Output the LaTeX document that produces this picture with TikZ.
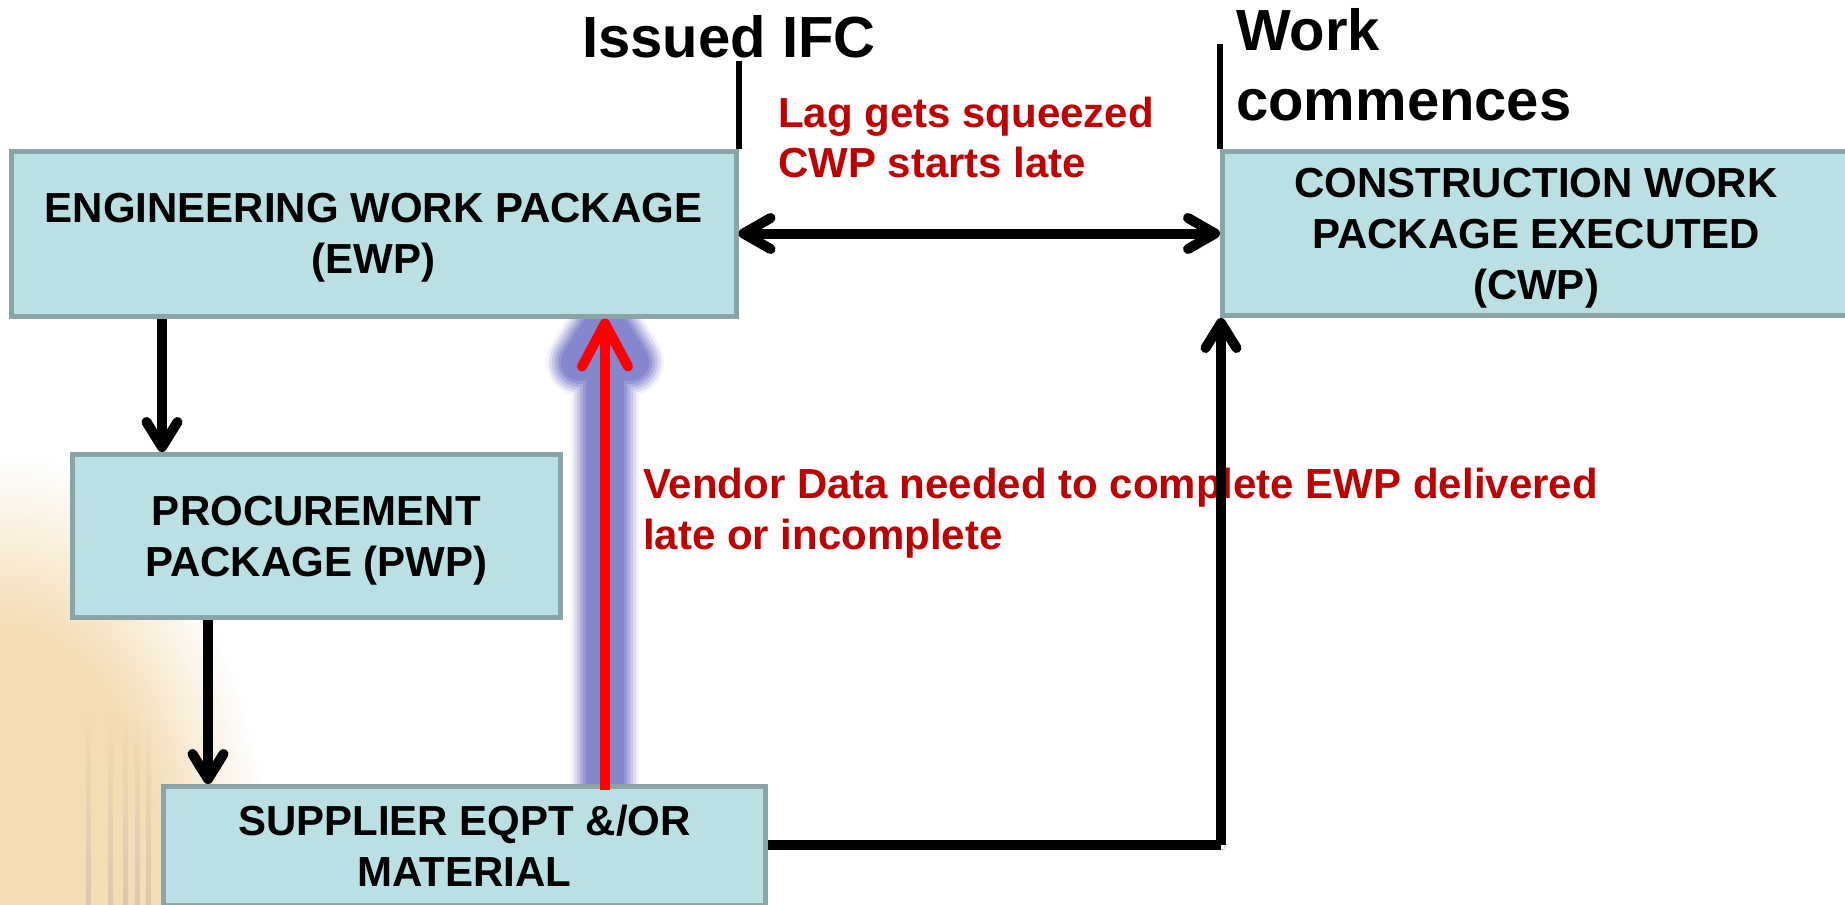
\documentclass[tikz,border=0pt]{standalone}
\usepackage{fontspec}
\setmainfont{Liberation Sans}
\usetikzlibrary{arrows.meta,fadings}
\definecolor{boxfill}{RGB}{186,224,227}
\definecolor{boxline}{RGB}{138,165,168}
\definecolor{darkred}{RGB}{192,0,0}
\definecolor{brightred}{RGB}{255,0,0}
\definecolor{glowc}{RGB}{134,134,206}
\definecolor{beige}{RGB}{243,221,181}
\definecolor{strokegray}{RGB}{170,160,165}
\pgfdeclareradialshading{beigesh}{\pgfpoint{0bp}{0bp}}{color(0bp)=(white); color(15bp)=(white); color(25bp)=(black); color(50bp)=(black)}
\pgfdeclarefading{beigefade}{\pgfuseshading{beigesh}}
\begin{document}
\begin{tikzpicture}[x=1pt,y=-1pt,
  pkg/.style={draw=boxline, fill=boxfill, line width=5pt, inner sep=0pt, align=center,
    text depth=0pt, font=\fontsize{42}{51}\selectfont\bfseries},
  shadowed/.style={preaction={draw=black!30, opacity=0.5, transform canvas={shift={(3pt,-4pt)}}}},
  conn/.style={shadowed, line width=10pt, -{Straight Barb[length=25pt,width=31pt,round]}},
  biconn/.style={shadowed, line width=10pt, {Straight Barb[length=27pt,width=31pt,round]}-{Straight Barb[length=27pt,width=31pt,round]}},
  plainline/.style={shadowed, line width=10pt, line join=round},
  tickline/.style={line width=6pt},
  title/.style={inner sep=0pt, align=left, font=\fontsize{58}{70}\selectfont\bfseries},
  note/.style={inner sep=0pt, align=left, text=darkred, font=\fontsize{42}{51}\selectfont\bfseries},
  glow/.style={line cap=round, line join=round},
  redarrow/.style={brightred, line width=10pt, -{Straight Barb[length=43pt,width=46pt,round]}}
]
\useasboundingbox (0,0) rectangle (1845,905);
\fill[white] (0,0) rectangle (1845,905);

% background decoration at the left
\fill[beige, path fading=beigefade] (0,905) ellipse [x radius=270pt, y radius=450pt];
\foreach \sx in {88,110,125,137,148}
  \draw[strokegray, opacity=0.35, line width=5pt, path fading=north] (\sx,717) -- (\sx,905);

% glow behind the red arrow
\coordinate (gtip) at (605,322);
\coordinate (gbot) at (605,790);
\coordinate (gl) at (580,362);
\coordinate (gr) at (630,362);
\foreach \w/\c in {68/10,62/28,56/48,50/68,44/86,38/100}
  \draw[glow, line width=\w pt, glowc!\c!white] (gbot) -- (gtip) (gl) -- (gtip) -- (gr);

% boxes
\node[pkg, minimum width=725pt, minimum height=165pt] (EWP) at (373.5,233.5)
  {ENGINEERING WORK PACKAGE\\(EWP)};
\node[pkg, minimum width=627pt, minimum height=164pt] (CWP) at (1536,233.5)
  {CONSTRUCTION WORK\\PACKAGE EXECUTED\\(CWP)};
\node[pkg, minimum width=488pt, minimum height=163pt] (PWP) at (316.5,536)
  {PROCUREMENT\\PACKAGE (PWP)};
\node[pkg, minimum width=602pt, minimum height=119pt] (SUP) at (464.5,846)
  {SUPPLIER EQPT \&/OR\\MATERIAL};

% titles and notes
\node[title, anchor=base west] (IFC) at (582,57) {Issued IFC};
\node[title, anchor=north west] (WRK) at (1236,8) {Work\\commences};
\node[note, anchor=north west, font=\fontsize{42}{50}\selectfont\bfseries] (LAG) at (778,96.5)
  {Lag gets squeezed\\CWP starts late};
\node[note, anchor=north west] (VEN) at (643,467.5)
  {Vendor Data needed to complete EWP delivered\\late or incomplete};

% milestone ticks
\draw[tickline] (EWP.north east) -- ++(0,-88);
\draw[tickline] (CWP.north west) -- ++(0,-105);

% helper coordinates
\coordinate (xa) at (162,0);
\coordinate (xb) at (208,0);
\coordinate (xr) at (605,0);
\coordinate (cc) at (1221,845);

% connectors
\draw[biconn] (EWP.east) -- (CWP.west);
\draw[conn] (EWP.south -| xa) -- (PWP.north -| xa);
\draw[conn] (PWP.south -| xb) -- (SUP.north -| xb);
\draw[plainline] (SUP.east |- cc) -- (cc);
\draw[conn] (cc) -- (CWP.south -| cc);

% red arrow
\draw[redarrow] ([yshift=-6pt]SUP.north -| xr) -- (EWP.south -| xr);
\end{tikzpicture}
\end{document}
